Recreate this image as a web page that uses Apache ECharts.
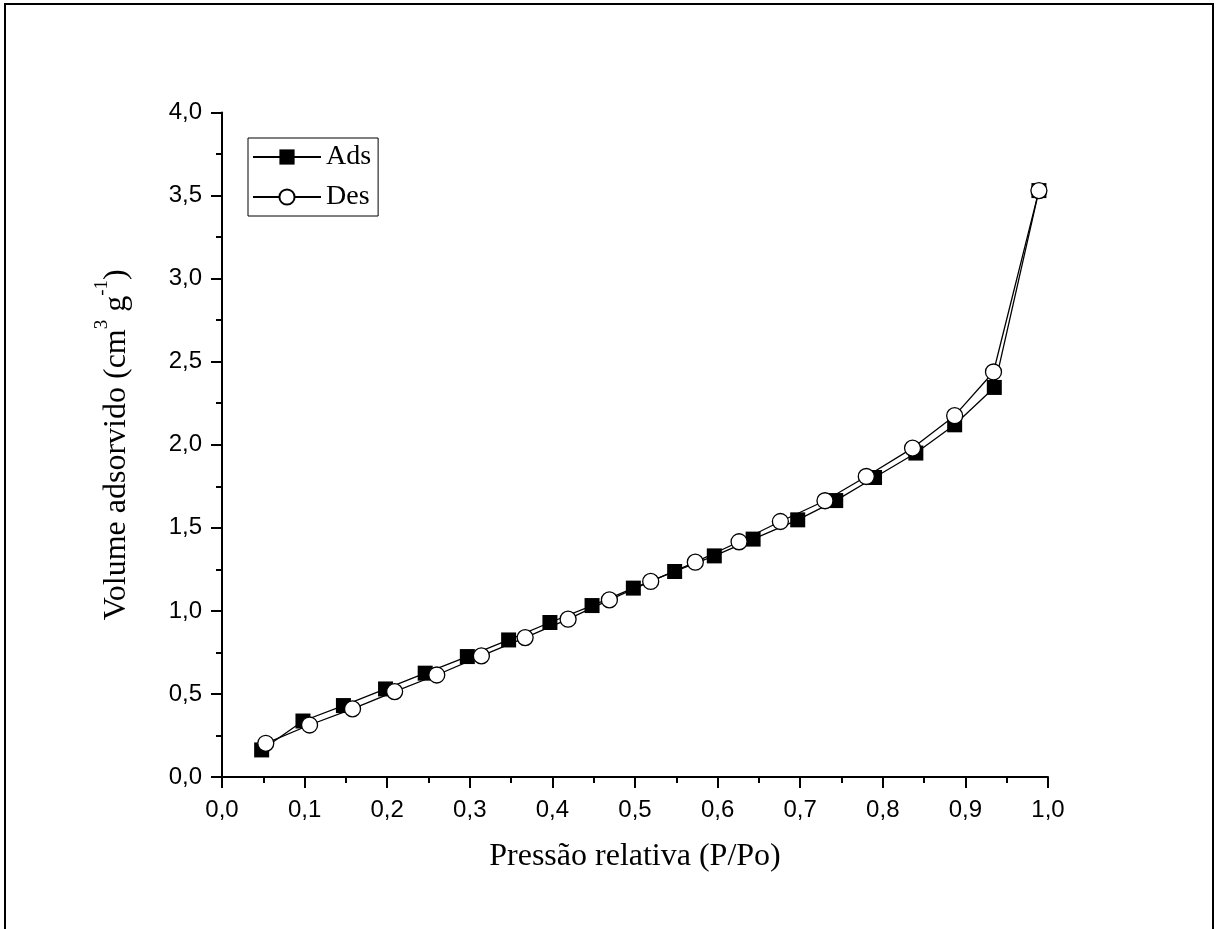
<!DOCTYPE html>
<html>
<head lang="pt">
    <meta charset="UTF-8">
    <title>Isoterma</title>
    <style>
        html, body { margin: 0; padding: 0; background: #fff; }
        #main { width: 1219px; height: 929px; }
    </style>
</head>
<body>
    <div id="main"></div>

    <script src="https://cdn.jsdelivr.net/npm/echarts@6/dist/echarts.min.js"></script>
    <script>
        // dados
        var adsX = [0.048, 0.098, 0.147, 0.198, 0.246, 0.297, 0.347, 0.397, 0.448, 0.498,
                    0.548, 0.596, 0.643, 0.697, 0.743, 0.790, 0.840, 0.887, 0.935, 0.989];
        var adsY = [0.163, 0.337, 0.430, 0.530, 0.625, 0.725, 0.825, 0.930, 1.032, 1.137,
                    1.237, 1.331, 1.432, 1.548, 1.664, 1.803, 1.950, 2.120, 2.345, 3.530];
        var desX = [0.053, 0.106, 0.158, 0.209, 0.260, 0.314, 0.367, 0.419, 0.469, 0.519,
                    0.573, 0.626, 0.676, 0.730, 0.780, 0.836, 0.887, 0.934, 0.989];
        var desY = [0.203, 0.313, 0.410, 0.514, 0.614, 0.729, 0.839, 0.950, 1.066, 1.177,
                    1.293, 1.416, 1.538, 1.663, 1.809, 1.980, 2.175, 2.438, 3.530];
        var seriesNames = ['Ads', 'Des'];
        var xTitle = 'Pressão relativa (P/Po)';

        function pares(xs, ys) {
            var out = [];
            for (var i = 0; i < xs.length; i++) {
                out.push([xs[i], ys[i]]);
            }
            return out;
        }
        function virgula(v) {
            return v.toFixed(1).replace('.', ',');
        }

        var serif = 'Liberation Serif';
        var sans = 'Liberation Sans';

        var app = echarts.init(document.getElementById('main'));
        var eixo = {
            axisLine: {lineStyle: {color: '#000', width: 2}},
            axisTick: {length: 11, lineStyle: {color: '#000', width: 2}},
            minorTick: {show: true, splitNumber: 2, length: 6, lineStyle: {color: '#000', width: 2}},
            splitLine: {show: false},
            minorSplitLine: {show: false}
        };
        option = {
            animation: false,
            backgroundColor: '#fff',
            graphic: [{
                type: 'rect',
                shape: {x: 5, y: 4, width: 1208, height: 940},
                style: {fill: 'none', stroke: '#000', lineWidth: 2},
                silent: true
            }],
            grid: {left: 222, right: 171, top: 112.5, bottom: 152, containLabel: false},
            legend: {
                left: 248,
                top: 138,
                orient: 'vertical',
                data: seriesNames,
                itemWidth: 68,
                itemHeight: 19,
                itemGap: 10,
                padding: [4, 7, 4, 4],
                borderColor: '#000',
                borderWidth: 1,
                textStyle: {fontFamily: serif, fontSize: 28, color: '#000', lineHeight: 30}
            },
            xAxis: Object.assign({
                type: 'value',
                min: 0,
                max: 1,
                interval: 0.1,
                name: xTitle,
                nameLocation: 'middle',
                nameGap: 64,
                nameTextStyle: {fontFamily: serif, fontSize: 32, color: '#000'},
                axisLabel: {fontFamily: sans, fontSize: 24, color: '#000', margin: 21, formatter: virgula}
            }, eixo),
            yAxis: Object.assign({
                type: 'value',
                min: 0,
                max: 4,
                interval: 0.5,
                name: '{a|Volume adsorvido (cm}{s|3}{a| g}{s|-1}{a|)}',
                nameLocation: 'middle',
                nameRotate: 90,
                nameGap: 89,
                nameTextStyle: {
                    rich: {
                        a: {fontFamily: serif, fontSize: 32, color: '#000', lineHeight: 40, verticalAlign: 'bottom'},
                        s: {fontFamily: serif, fontSize: 19, color: '#000', lineHeight: 40, verticalAlign: 'top'}
                    }
                },
                axisLabel: {fontFamily: sans, fontSize: 24, color: '#000', margin: 20, formatter: virgula}
            }, eixo),
            series: [
                {
                    name: 'Ads',
                    type: 'line',
                    data: pares(adsX, adsY),
                    symbol: 'rect',
                    symbolSize: 15,
                    itemStyle: {color: '#000'},
                    lineStyle: {color: '#000', width: 1.3},
                    z: 2
                },
                {
                    name: 'Des',
                    type: 'line',
                    data: pares(desX, desY),
                    symbol: 'circle',
                    symbolSize: 16,
                    itemStyle: {color: '#fff', borderColor: '#000', borderWidth: 1.3},
                    lineStyle: {color: '#000', width: 1.3},
                    z: 3
                }
            ]
        };
        app.setOption(option);
        window.addEventListener('resize', function () {
            app.resize();
        });
    </script>
</body>
</html>
